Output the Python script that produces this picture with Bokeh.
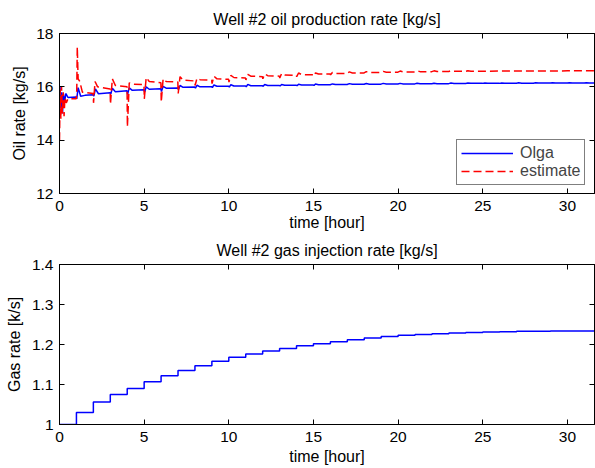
from bokeh.plotting import figure
from bokeh.layouts import column
from bokeh.models import (Range1d, LinearAxis, FixedTicker, CustomJSTickFormatter, Legend,
                          LegendItem, CustomLabelingPolicy)
from bokeh.embed import file_html
from bokeh.resources import INLINE

# ---------------- data ----------------
olga_t = [0.00, 0.03, 0.08, 0.13, 0.18, 0.23, 0.30, 0.38, 0.50, 0.99,
          1.02, 1.10, 1.25, 1.50, 2.00, 2.03, 2.12, 2.30, 2.99, 3.03,
          3.12, 3.30, 3.99, 4.02, 4.12, 4.30, 4.99, 5.03, 5.12, 5.30,
          5.99, 6.02, 6.12, 6.30, 6.99, 7.03, 7.12, 7.30, 7.99, 8.03,
          8.12, 8.30, 8.99, 9.03, 9.12, 9.30, 9.99, 10.03, 10.12, 10.30,
          10.99, 11.03, 11.12, 11.30, 11.99, 12.03, 12.12, 12.30, 12.99, 13.03,
          13.12, 13.30, 13.99, 14.03, 14.12, 14.30, 14.99, 15.03, 15.12, 15.30,
          15.99, 16.12, 16.30, 16.99, 17.12, 17.30, 17.99, 18.12, 18.30, 18.99,
          19.12, 19.30, 19.99, 20.12, 20.30, 20.99, 21.12, 21.30, 21.99, 22.12,
          22.30, 22.99, 23.12, 23.30, 23.99, 24.12, 24.30, 24.99, 25.12, 25.30,
          25.99, 26.12, 26.30, 26.99, 27.12, 27.30, 27.99, 28.12, 28.30, 28.99,
          29.12, 29.30, 29.99, 30.12, 30.30, 30.99, 31.12, 31.30, 31.60]
olga_rate = [15.50, 16.00, 15.20, 15.80, 15.00, 15.75, 15.45, 15.75, 15.60, 15.62,
             15.55, 15.97, 15.65, 15.68, 15.70, 15.65, 15.92, 15.74, 15.78, 15.73,
             15.95, 15.82, 15.85, 15.72, 15.96, 15.87, 15.89, 15.80, 16.00, 15.91,
             15.93, 15.82, 16.02, 15.95, 15.96, 15.90, 16.05, 15.98, 15.99, 15.95,
             16.06, 16.00, 16.00, 15.97, 16.07, 16.02, 16.02, 15.99, 16.08, 16.03,
             16.03, 16.00, 16.09, 16.04, 16.04, 16.02, 16.09, 16.05, 16.05, 16.03,
             16.09, 16.06, 16.06, 16.04, 16.10, 16.07, 16.07, 16.05, 16.11, 16.08,
             16.08, 16.11, 16.09, 16.09, 16.12, 16.095, 16.095, 16.125, 16.10, 16.10,
             16.13, 16.105, 16.105, 16.13, 16.11, 16.11, 16.135, 16.115, 16.115, 16.135,
             16.12, 16.12, 16.14, 16.125, 16.125, 16.14, 16.13, 16.13, 16.145, 16.13,
             16.13, 16.145, 16.135, 16.135, 16.15, 16.135, 16.135, 16.15, 16.14, 16.14,
             16.15, 16.14, 16.14, 16.155, 16.14, 16.14, 16.155, 16.145, 16.145]

est_t = [0.00, 0.04, 0.08, 0.12, 0.17, 0.22, 0.27, 0.32, 0.40, 0.50,
         0.99, 1.02, 1.05, 1.10, 1.20, 1.35, 1.99, 2.01, 2.10, 2.25,
         2.99, 3.01, 3.12, 3.30, 3.99, 4.01, 4.12, 4.30, 4.99, 5.01,
         5.12, 5.30, 5.99, 6.01, 6.12, 6.30, 6.99, 7.01, 7.12, 7.30,
         7.99, 8.01, 8.12, 8.30, 8.99, 9.01, 9.12, 9.30, 9.99, 10.01,
         10.12, 10.30, 10.99, 11.01, 11.12, 11.30, 11.99, 12.01, 12.12, 12.30,
         12.99, 13.01, 13.12, 13.30, 13.99, 14.01, 14.12, 14.30, 14.99, 15.01,
         15.12, 15.30, 15.99, 16.01, 16.12, 16.30, 16.99, 17.12, 17.30, 17.99,
         18.12, 18.30, 18.99, 19.12, 19.30, 19.99, 20.12, 20.30, 20.99, 21.12,
         21.30, 21.99, 22.12, 22.30, 22.99, 23.12, 23.30, 23.99, 24.12, 24.30,
         25.00, 26.00, 27.00, 28.00, 29.00, 30.00, 31.00, 31.60]
est_rate = [14.00, 15.90, 14.80, 16.00, 15.00, 15.80, 14.90, 15.60, 15.40, 15.55,
            15.55, 15.90, 17.50, 16.30, 16.20, 15.80, 15.75, 15.40, 16.20, 16.00,
            15.92, 15.35, 16.30, 16.05, 16.00, 14.50, 16.15, 16.10, 16.08, 15.55,
            16.35, 16.20, 16.15, 15.43, 16.30, 16.20, 16.18, 15.75, 16.38, 16.25,
            16.22, 16.05, 16.32, 16.27, 16.25, 16.12, 16.40, 16.30, 16.28, 16.18,
            16.43, 16.35, 16.33, 16.26, 16.47, 16.40, 16.38, 16.30, 16.48, 16.42,
            16.40, 16.33, 16.50, 16.44, 16.43, 16.38, 16.52, 16.46, 16.45, 16.41,
            16.52, 16.48, 16.48, 16.45, 16.54, 16.50, 16.50, 16.56, 16.52, 16.52,
            16.57, 16.54, 16.54, 16.58, 16.55, 16.55, 16.59, 16.56, 16.56, 16.59,
            16.57, 16.57, 16.60, 16.575, 16.575, 16.60, 16.58, 16.58, 16.60, 16.585,
            16.585, 16.59, 16.59, 16.595, 16.595, 16.60, 16.60, 16.60]

gas_t = [0, 1, 2, 3, 4, 5, 6, 7, 8, 9, 10, 11, 12, 13, 14, 15, 16,
         17, 18, 19, 20, 21, 22, 23, 24, 25, 26, 27, 28, 29, 30, 31, 31.6]
gas_rate = [1.000, 1.030, 1.056, 1.075, 1.090, 1.107, 1.122, 1.135, 1.147,
            1.158, 1.168, 1.176, 1.184, 1.190, 1.197, 1.202, 1.207, 1.212,
            1.216, 1.220, 1.223, 1.225, 1.227, 1.229, 1.230, 1.231, 1.232,
            1.233, 1.233, 1.234, 1.234, 1.234, 1.234]

x_ticks = [0, 5, 10, 15, 20, 25, 30]
oil_ticks = [12, 14, 16, 18]
gas_ticks = [1.0, 1.1, 1.2, 1.3, 1.4]

FONT = "Liberation Sans"
TICK_FS = "15.5px"
LAB_FS = "16px"


def style_axis(ax, labels=True):
    ax.major_tick_in = 5
    ax.major_tick_out = 0
    ax.minor_tick_in = 0
    ax.minor_tick_out = 0
    ax.axis_line_color = "black"
    ax.major_tick_line_color = "black"
    ax.major_label_text_font = FONT
    ax.major_label_text_color = "black"
    ax.axis_label_text_font = FONT
    ax.axis_label_text_font_style = "normal"
    ax.axis_label_text_font_size = LAB_FS
    ax.axis_label_text_color = "black"
    if labels:
        ax.major_label_text_font_size = TICK_FS
        ax.major_label_standoff = 6
    else:
        ax.major_label_text_font_size = "10px"
        ax.major_label_standoff = 0
        ax.formatter = CustomJSTickFormatter(code="return '';")
        ax.major_label_policy = CustomLabelingPolicy(
            code="const a = [...indices]; for (const i of a) { indices.unset(i) }")


def make_fig(title, ylabel, yr, yticks, fmt=None, xlab_standoff=0, top_b=33, bot_b=41,
             title_standoff=12, ylab_standoff=5):
    p = figure(frame_width=535, frame_height=160, output_backend="svg", toolbar_location=None,
               x_range=Range1d(0, 31.6), y_range=yr,
               min_border_left=59, min_border_right=1, min_border_top=top_b, min_border_bottom=bot_b,
               background_fill_color="white", border_fill_color="white")
    p.title.text = title
    p.title.text_font = FONT
    p.title.text_font_size = LAB_FS
    p.title.text_font_style = "normal"
    p.title.text_color = "black"
    p.title.align = "center"
    p.title.standoff = title_standoff
    p.xgrid.visible = False
    p.ygrid.visible = False
    p.outline_line_color = "black"
    p.outline_line_width = 1
    xa = p.below[0]
    ya = p.left[0]
    xa.ticker = FixedTicker(ticks=x_ticks)
    ya.ticker = FixedTicker(ticks=yticks)
    xa.axis_label = "time [hour]"
    ya.axis_label = ylabel
    if fmt is not None:
        ya.formatter = fmt
    style_axis(xa)
    style_axis(ya)
    xa.major_label_standoff = 7
    xa.axis_label_standoff = xlab_standoff
    ya.axis_label_standoff = ylab_standoff
    top = LinearAxis(ticker=FixedTicker(ticks=x_ticks))
    right = LinearAxis(ticker=FixedTicker(ticks=yticks))
    style_axis(top, labels=False)
    style_axis(right, labels=False)
    p.add_layout(top, "above")
    p.add_layout(right, "right")
    return p


p1 = make_fig("Well #2 oil production rate [kg/s]", "Oil rate [kg/s]", Range1d(12, 18),
              oil_ticks, xlab_standoff=0, top_b=33, bot_b=41, title_standoff=12, ylab_standoff=5)
l1 = p1.line(olga_t, olga_rate, line_color="#0000ff", line_width=1.5)
l2 = p1.line(est_t, est_rate, line_color="#ff0000", line_width=1.5, line_dash="8 4")
legend = Legend(items=[LegendItem(label="Olga", renderers=[l1]),
                       LegendItem(label="estimate", renderers=[l2])],
                location=(397, 8), orientation="vertical",
                border_line_color="black", border_line_width=1,
                background_fill_color="white", background_fill_alpha=1.0,
                label_text_font=FONT, label_text_font_size=LAB_FS, label_text_line_height=0.8,
                glyph_width=52, glyph_height=14, label_standoff=7,
                padding=4, spacing=0, margin=0, label_height=14)
p1.add_layout(legend, "center")

gas_fmt = CustomJSTickFormatter(code="return String(Number(tick.toFixed(2)));")
p2 = make_fig("Well #2 gas injection rate [kg/s]", "Gas rate [k/s]", Range1d(1, 1.4),
              gas_ticks, fmt=gas_fmt, xlab_standoff=3, top_b=29, bot_b=45, title_standoff=11,
              ylab_standoff=6)
p2.step(gas_t, gas_rate, mode="after", line_color="#0000ff", line_width=1.5)

layout = column(p1, p2, spacing=0)
open("out.html", "w").write(file_html(layout, INLINE))
